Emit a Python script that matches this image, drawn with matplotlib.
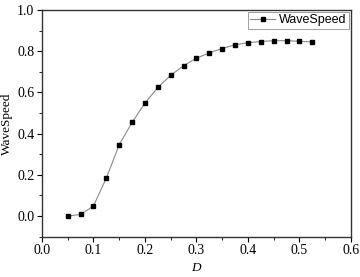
import matplotlib
matplotlib.use("Agg")
import matplotlib.pyplot as plt
from matplotlib.ticker import MultipleLocator, FormatStrFormatter

# wave speed vs D
D = [0.05, 0.075, 0.1, 0.125, 0.15, 0.175, 0.2, 0.225, 0.25, 0.275,
     0.3, 0.325, 0.35, 0.375, 0.4, 0.425, 0.45, 0.475, 0.5, 0.525]
wave_speed = [0.0, 0.008, 0.049, 0.185, 0.346, 0.455, 0.548, 0.624, 0.683, 0.73,
              0.766, 0.792, 0.813, 0.831, 0.841, 0.847, 0.851, 0.851, 0.848, 0.845]

SERIF = ["Liberation Serif", "DejaVu Serif"]
SANS = ["Liberation Sans", "DejaVu Sans"]

fig = plt.figure(figsize=(3.6, 2.77), dpi=100)
ax = fig.add_axes([0.1167, 0.1455, 0.858, 0.8185])

ax.plot(D, wave_speed, color="#8a8a8a", lw=0.8, marker="s", ms=3.3,
        mfc="black", mec="black", label="WaveSpeed")

ax.set_xlim(0.0, 0.6)
ax.set_ylim(-0.1, 1.0)
ax.xaxis.set_major_locator(MultipleLocator(0.1))
ax.xaxis.set_minor_locator(MultipleLocator(0.05))
ax.yaxis.set_major_locator(MultipleLocator(0.2))
ax.yaxis.set_minor_locator(MultipleLocator(0.1))
ax.xaxis.set_major_formatter(FormatStrFormatter("%.1f"))
ax.yaxis.set_major_formatter(FormatStrFormatter("%.1f"))
ax.tick_params(which="major", direction="out", length=3.5, width=0.8, labelsize=10, pad=2)
ax.tick_params(which="minor", direction="out", length=2, width=0.6)
for lab in ax.get_xticklabels() + ax.get_yticklabels():
    lab.set_family(SERIF)
for sp in ax.spines.values():
    sp.set_linewidth(1.0)
    sp.set_color("#333")

ax.set_xlabel("D", family=SERIF, style="italic", fontsize=9.5, labelpad=3)
ax.set_ylabel("WaveSpeed", family=SERIF, fontsize=9.5, labelpad=3)

leg = ax.legend(loc="upper right", prop={"family": SANS, "size": 9}, fancybox=False,
                borderaxespad=0.15, borderpad=0.2, handlelength=2.0, handletextpad=0.3,
                markerscale=1.0)
leg.get_frame().set_edgecolor("#888")
leg.get_frame().set_linewidth(0.7)

fig.savefig("out.png", dpi=100)
